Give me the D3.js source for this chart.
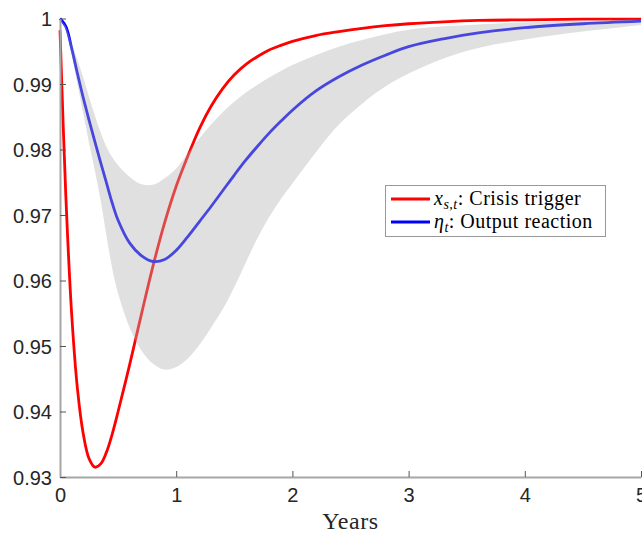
<!DOCTYPE html>
<html>
<head>
<meta charset="utf-8">
<script src="https://cdn.jsdelivr.net/npm/d3@7"></script>
<style>
  html, body { margin: 0; padding: 0; background: #fff; }
  svg { display: block; }
</style>
</head>
<body>
<svg id="chart" width="642" height="534"></svg>
<script>
// Time grid (years)
const years = [0, 0.05, 0.1, 0.15, 0.2, 0.25, 0.3, 0.35, 0.4, 0.45, 0.5, 0.6, 0.7, 0.8, 0.9, 1.0,
  1.1, 1.2, 1.3, 1.4, 1.5, 1.6, 1.7, 1.8, 1.9, 2.0, 2.2, 2.4, 2.6, 2.8, 3.0, 3.3, 3.6, 4.0, 4.5, 5.0];

// x_{s,t}: Crisis trigger
const crisisTrigger = [0.9982, 0.973, 0.955, 0.9435, 0.9366, 0.9328, 0.9315, 0.932, 0.9338, 0.9366, 0.9400,
  0.9472, 0.9548, 0.9622, 0.9688, 0.9744, 0.979, 0.9832, 0.9866, 0.9893, 0.9914, 0.993, 0.9942, 0.9952,
  0.9959, 0.9965, 0.9974, 0.998, 0.9985, 0.9989, 0.9992, 0.9995, 0.9997, 0.9998, 0.9999, 0.9999];

// eta_t: Output reaction
const outputReaction = [1.0, 0.9988, 0.9955, 0.9916, 0.9879, 0.9845, 0.9812, 0.978, 0.9749, 0.9718, 0.9692,
  0.9657, 0.9638, 0.9629, 0.9632, 0.9646, 0.9667, 0.969, 0.9713, 0.9737, 0.9761, 0.9784, 0.9805, 0.9825,
  0.9843, 0.986, 0.9889, 0.9911, 0.9929, 0.9944, 0.9957, 0.9969, 0.9978, 0.9986, 0.9992, 0.9996];

// Confidence band
const bandUpper = [1.0, 0.9988, 0.9962, 0.9937, 0.991, 0.988, 0.9852, 0.9826, 0.9804, 0.9788, 0.9776,
  0.9758, 0.9747, 0.9746, 0.9756, 0.9771, 0.9794, 0.9817, 0.9838, 0.9857, 0.9873, 0.9887, 0.9899, 0.991,
  0.992, 0.9929, 0.9944, 0.9957, 0.9967, 0.9976, 0.9983, 0.9988, 0.9991, 0.9994, 0.9997, 0.9998];
const bandLower = [1.0, 0.9982, 0.9945, 0.99, 0.9855, 0.981, 0.9768, 0.9722, 0.9668, 0.9618, 0.958,
  0.9528, 0.9493, 0.9473, 0.9464, 0.9468, 0.9481, 0.9502, 0.9528, 0.9556, 0.959, 0.9628, 0.9665, 0.9697,
  0.9724, 0.9748, 0.9795, 0.9838, 0.987, 0.9896, 0.9916, 0.9939, 0.9955, 0.9968, 0.998, 0.999];

const xTicks = [0, 1, 2, 3, 4, 5];
const yTicks = [0.93, 0.94, 0.95, 0.96, 0.97, 0.98, 0.99, 1];
const yTickLabels = ["0.93", "0.94", "0.95", "0.96", "0.97", "0.98", "0.99", "1"];

const svg = d3.select("#chart");
const margin = { left: 60, right: 1, top: 18.5, bottom: 57 };
const W = 642, H = 534;

const x = d3.scaleLinear().domain([0, 5]).range([margin.left, W - margin.right]);
const y = d3.scaleLinear().domain([0.93, 1]).range([H - margin.bottom, margin.top]);

const pts = (arr) => years.map((t, i) => [t, arr[i]]);
const smooth = d3.curveCatmullRom.alpha(0.5);

const line = d3.line().x(d => x(d[0])).y(d => y(d[1])).curve(smooth);

// lines
svg.append("path").attr("d", line(pts(crisisTrigger)))
  .attr("fill", "none").attr("stroke", "#ff0000").attr("stroke-width", 2.8);
svg.append("path").attr("d", line(pts(outputReaction)))
  .attr("fill", "none").attr("stroke", "#0000ff").attr("stroke-width", 2.8);

// band (translucent, over lines)
const area = d3.area()
  .x((d, i) => x(years[i]))
  .y0((d, i) => y(bandLower[i]))
  .y1((d, i) => y(bandUpper[i]))
  .curve(smooth);
svg.append("path").attr("d", area(years))
  .attr("fill", "#b2b2b2").attr("fill-opacity", 0.4).attr("stroke", "none");

// axes
const xAxis = d3.axisBottom(x).tickValues(xTicks).tickSizeInner(-6).tickSizeOuter(0).tickPadding(11)
  .tickFormat(d3.format("d"));
const yAxis = d3.axisLeft(y).tickValues(yTicks).tickSizeInner(-6).tickSizeOuter(0).tickPadding(8)
  .tickFormat((d, i) => yTickLabels[i]);

const gx = svg.append("g").attr("transform", `translate(0,${y(0.93)})`).call(xAxis);
const gy = svg.append("g").attr("transform", `translate(${x(0)},0)`).call(yAxis);

[gx, gy].forEach(g => {
  g.select(".domain").attr("stroke", "#a6a6a6").attr("stroke-width", 2);
  g.selectAll(".tick line").attr("stroke", "#555").attr("stroke-width", 1);
  g.selectAll(".tick text").attr("fill", "#262626")
    .style("font-family", "'Liberation Sans', Arial, Helvetica, sans-serif").style("font-size", "20px");
});
gx.selectAll(".tick text").attr("dy", "0.71em");
gy.selectAll(".tick text").attr("dy", "0.35em");

// x label
svg.append("text").attr("x", (x(0) + x(5)) / 2).attr("y", 529)
  .attr("text-anchor", "middle")
  .style("font-family", "'Liberation Serif', 'Times New Roman', serif").style("font-size", "24px")
  .style("letter-spacing", "0.6px")
  .attr("fill", "#262626").text("Years");

// legend
const lg = svg.append("g");
lg.append("rect").attr("x", 385.5).attr("y", 185.5).attr("width", 220).attr("height", 51)
  .attr("fill", "#fff").attr("stroke", "#999").attr("stroke-width", 1);
const legendItems = [
  { color: "#ff0000", sym: "x", sub: "s,t", label: ": Crisis trigger", yy: 199 },
  { color: "#0000ff", sym: "\u03B7", sub: "t", label: ": Output reaction", yy: 222 }
];
legendItems.forEach(it => {
  lg.append("line").attr("x1", 391).attr("x2", 430).attr("y1", it.yy).attr("y2", it.yy)
    .attr("stroke", it.color).attr("stroke-width", 2.8);
  const t = lg.append("text").attr("x", 434).attr("y", it.yy + 6)
    .style("font-family", "'Liberation Serif', 'Times New Roman', serif").style("font-size", "20px")
    .style("letter-spacing", "0.5px")
    .attr("fill", "#000");
  t.append("tspan").style("font-style", "italic").text(it.sym);
  t.append("tspan").style("font-style", "italic").style("font-size", "14px").attr("dy", 4).text(it.sub);
  t.append("tspan").attr("dy", -4).text(it.label);
});
</script>
</body>
</html>
